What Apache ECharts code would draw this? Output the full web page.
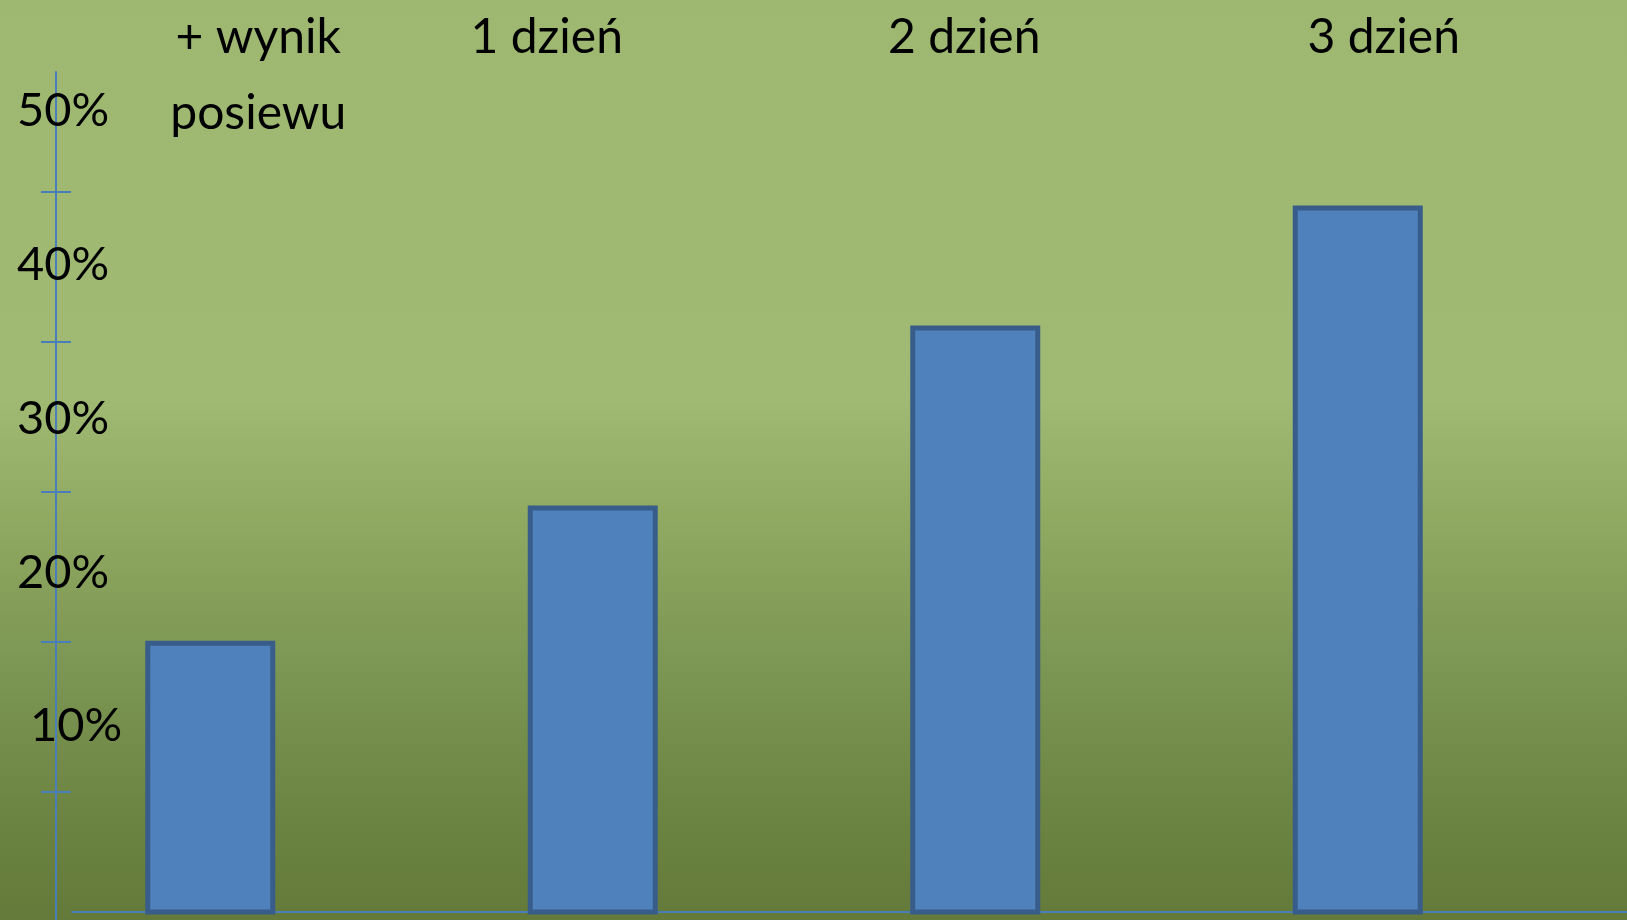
<!DOCTYPE html>
<html>
<head>
<meta charset="utf-8">
<script src="https://cdn.jsdelivr.net/npm/echarts@6/dist/echarts.min.js"></script>
<style>
html,body{margin:0;padding:0;}
#chart{width:1627px;height:920px;}
</style>
</head>
<body>
<div id="chart"></div>
<script>
// ---- data ----
var categories = ['+ wynik\nposiewu', '1 dzień', '2 dzień', '3 dzień'];
var values = [15.4, 24.2, 35.9, 43.7];           // percent
var labelValues = [10, 20, 30, 40, 50];          // y-axis tick labels (percent)
var tickValues = [10, 20, 30, 40, 50];           // y-axis tick marks

// ---- styling / layout ----
var FONT = 'Lato';
var AXIS_COLOR = '#4a7ebb';
var LABEL_MIN = -2.08, LABEL_MAX = 52.55;        // value range of the bar / label axis
var TICK_MIN = 1.467, TICK_MAX = 58;             // value range of the tick axis
var labelShift = [48, -46, -11, 26];             // horizontal nudges of the category captions (px)

function shiftStyle(i) {
  var d = labelShift[i] || 0;
  return {fontFamily: FONT, fontSize: 48, lineHeight: 76, color: '#000',
    padding: d >= 0 ? [0, 0, 0, 2 * d] : [0, -2 * d, 0, 0]};
}
var catRich = {};
categories.forEach(function (c, i) { catRich['c' + i] = shiftStyle(i); });

var chart = echarts.init(document.getElementById('chart'));
var option = {
  animation: false,
  backgroundColor: {
    type: 'linear', x: 0, y: 0, x2: 0, y2: 1,
    colorStops: [
      {offset: 0, color: '#9eb872'},
      {offset: 0.43, color: '#a0ba74'},
      {offset: 0.56, color: '#90aa62'},
      {offset: 0.73, color: '#7b9553'},
      {offset: 0.9, color: '#6b8340'},
      {offset: 1, color: '#637a3a'}
    ]
  },
  grid: [
    {left: 56, right: 0, top: 72, bottom: 0},     // vertical axis with ticks
    {left: 72, right: 0, top: 72, bottom: 8},     // horizontal baseline
    {left: 19, right: 78, top: 72, bottom: 8}     // bars + labels
  ],
  xAxis: [
    {gridIndex: 0, type: 'value', show: false},
    {gridIndex: 1, type: 'value', min: 0, max: 1,
      axisLine: {show: true, onZero: false, lineStyle: {color: AXIS_COLOR, width: 2}},
      axisTick: {show: false}, axisLabel: {show: false}, splitLine: {show: false}},
    {gridIndex: 2, type: 'category', position: 'top', data: categories,
      axisLine: {show: false}, axisTick: {show: false}, splitLine: {show: false},
      axisLabel: {show: true, interval: 0, margin: 72, verticalAlign: 'top',
        color: '#000', fontFamily: FONT, fontSize: 48, lineHeight: 76,
        formatter: function (v, i) {
          return v.split('\n').map(function (line) { return '{c' + i + '|' + line + '}'; }).join('\n');
        },
        rich: catRich}}
  ],
  yAxis: [
    {gridIndex: 0, type: 'value', position: 'left', min: TICK_MIN, max: TICK_MAX,
      axisLine: {show: true, lineStyle: {color: AXIS_COLOR, width: 2}},
      axisTick: {show: true, length: 15, lineStyle: {color: AXIS_COLOR, width: 2}, customValues: tickValues},
      axisLabel: {show: false}, splitLine: {show: false}},
    {gridIndex: 0, type: 'value', position: 'left', offset: 0, min: TICK_MIN, max: TICK_MAX,
      axisLine: {show: false},
      axisTick: {show: true, inside: true, length: 15, lineStyle: {color: AXIS_COLOR, width: 2}, customValues: tickValues},
      axisLabel: {show: false}, splitLine: {show: false}},
    {gridIndex: 1, type: 'value', show: false},
    {gridIndex: 2, type: 'value', position: 'left', min: LABEL_MIN, max: LABEL_MAX,
      axisLine: {show: false}, axisTick: {show: false}, splitLine: {show: false},
      axisLabel: {show: true, customValues: labelValues, align: 'left', margin: 2,
        color: '#000', fontFamily: FONT, fontSize: 47,
        formatter: function (v) { return v === 10 ? '{s|' + v + '%}' : v + '%'; },
        rich: {s: {fontFamily: FONT, fontSize: 47, color: '#000', padding: [0, 0, 0, 13]}}}}
  ],
  series: [{
    type: 'custom',
    xAxisIndex: 2, yAxisIndex: 3,
    data: values.map(function (v, i) { return [i, v]; }),
    encode: {x: 0, y: 1},
    renderItem: function (params, api) {
      var top = api.coord([api.value(0), api.value(1)]);
      var base = api.coord([api.value(0), LABEL_MIN]);
      var w = 125;
      return {
        type: 'rect',
        shape: {x: top[0] - w / 2, y: top[1], width: w, height: base[1] - top[1]},
        style: {fill: '#4f81bd', stroke: '#385d8a', lineWidth: 5}
      };
    }
  }]
};
chart.setOption(option);
</script>
</body>
</html>
